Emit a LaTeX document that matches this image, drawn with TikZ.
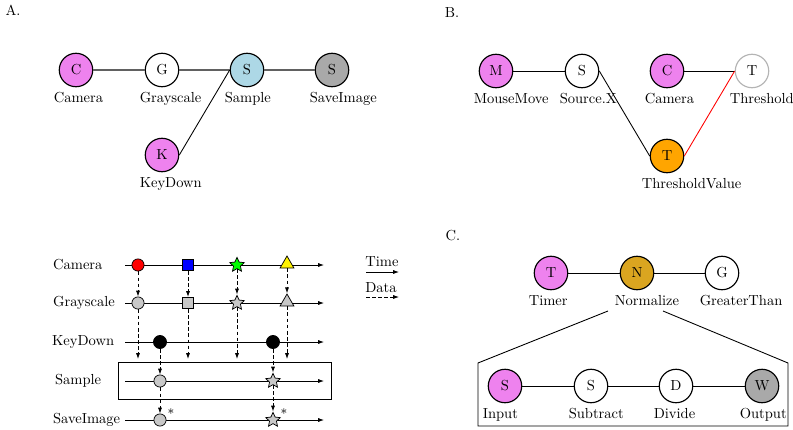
\documentclass[tikz,border=0pt]{standalone}
\usetikzlibrary{shapes.geometric,arrows.meta}
\definecolor{pinkv}{RGB}{238,130,238}
\definecolor{lblue}{RGB}{173,216,230}
\definecolor{dgray}{RGB}{169,169,169}
\definecolor{orng}{RGB}{255,165,0}
\definecolor{gold}{RGB}{218,165,32}
\definecolor{lgray}{RGB}{200,200,200}
\definecolor{bgray}{RGB}{180,180,180}
\begin{document}
\begin{tikzpicture}[x=0.6875pt,y=-0.6875pt,
  nd/.style={circle,draw,line width=0.8pt,minimum size=23pt,inner sep=0pt},
  nlbl/.style={anchor=north west,xshift=-6.9pt,yshift=-12pt},
  lnka/.style={draw=black!62,line width=1pt},
  lnk/.style={draw=black,line width=0.6pt},
  ev/.style={draw,line width=0.5pt,inner sep=0pt},
  evc/.style={ev,circle,minimum size=8.4pt},
  evs/.style={ev,rectangle,minimum size=7.8pt},
  evst/.style={ev,star,star points=5,star point ratio=2.1,minimum size=10.5pt},
  evt/.style={ev,regular polygon,regular polygon sides=3,minimum size=11pt},
  evk/.style={ev,circle,fill=black,minimum size=9pt},
  ax/.style={-{Latex[length=4pt,width=2.8pt]},line width=0.55pt},
  dat/.style={-{Latex[length=4pt,width=2.8pt]},line width=0.55pt,dash pattern=on 2.6pt off 1.6pt},
  rowlbl/.style={anchor=west}
]
\useasboundingbox (0,0) rectangle (793,429);

% ---------------- Panel A ----------------
\node (pA) at (13,10) {A.};
\node[nd,fill=pinkv] (aC) at (76,70) {C};
\node[nd,fill=white] (aG) at (162,70) {G};
\node[nd,fill=lblue] (aS) at (247,70) {S};
\node[nd,fill=dgray] (aW) at (332,70) {S};
\node[nd,fill=pinkv] (aK) at (162,155) {K};
\node[nlbl] (aCl) at (aC.west) {Camera};
\node[nlbl] (aGl) at (aG.west) {Grayscale};
\node[nlbl] (aSl) at (aS.west) {Sample};
\node[nlbl] (aWl) at (aW.west) {SaveImage};
\node[nlbl] (aKl) at (aK.west) {KeyDown};
\draw[lnka] (aC) -- (aG);
\draw[lnka] (aG) -- (aS);
\draw[lnka] (aS) -- (aW);
\draw[lnk] (aK.east) -- (aS.west);

% ---------------- Panel B ----------------
\node (pB) at (452,13) {B.};
\node[nd,fill=pinkv] (bM) at (496,71) {M};
\node[nd,fill=white] (bS) at (582,71) {S};
\node[nd,fill=pinkv] (bC) at (667,71) {C};
\node[nd,fill=white,draw=bgray] (bT) at (752,71) {T};
\node[nd,fill=orng] (bV) at (667,156) {T};
\node[nlbl] (bMl) at (bM.west) {MouseMove};
\node[nlbl] (bSl) at (bS.west) {Source.X};
\node[nlbl] (bCl) at (bC.west) {Camera};
\node[nlbl] (bTl) at (bT.west) {Threshold};
\node[nlbl] (bVl) at ([xshift=-2pt]bV.west) {ThresholdValue};
\draw[lnk] (bM) -- (bS);
\draw[lnk] (bC) -- (bT);
\draw[lnk] (bS.east) -- (bV.west);
\draw[lnk,draw=red] (bV.east) -- (bT.west);

% ---------------- Panel C ----------------
\node (pC) at (453,236) {C.};
\node[nd,fill=pinkv] (cT) at (551,273) {T};
\node[nd,fill=gold] (cN) at (637,273) {N};
\node[nd,fill=white] (cG) at (722,273) {G};
\node[nlbl] (cTl) at (cT.west) {Timer};
\node[nlbl] (cNl) at (cN.west) {Normalize};
\node[nlbl] (cGl) at (cG.west) {GreaterThan};
\draw[lnk] (cT) -- (cN);
\draw[lnk] (cN) -- (cG);
\coordinate (tl) at (608,311);
\coordinate (tr) at (663,311);
\coordinate (ml) at (478,363);
\coordinate (mr) at (788,363);
\coordinate (bl) at (478,426);
\coordinate (br) at (788,426);
\draw[lnk] (tl) -- (ml) -- (bl) -- (br) -- (mr) -- (tr);
\node[nd,fill=pinkv] (cI) at (505,386) {S};
\node[nd,fill=white] (cS) at (591,386) {S};
\node[nd,fill=white] (cD) at (676,386) {D};
\node[nd,fill=dgray] (cO) at (762,386) {W};
\node[nlbl] (cIl) at (cI.west) {Input};
\node[nlbl] (cSl) at (cS.west) {Subtract};
\node[nlbl] (cDl) at (cD.west) {Divide};
\node[nlbl] (cOl) at (cO.west) {Output};
\draw[lnk] (cI) -- (cS);
\draw[lnk] (cS) -- (cD);
\draw[lnk] (cD) -- (cO);

% ---------------- Timeline panel ----------------
\node[rowlbl] (lCam) at (48,265) {Camera};
\node[rowlbl] (lGray) at (48,303) {Grayscale};
\node[rowlbl] (lKey) at (47,342) {KeyDown};
\node[rowlbl] (lSam) at (50,381) {Sample};
\node[rowlbl] (lSav) at (48,420) {SaveImage};

\draw[line width=0.6pt] (118,362) rectangle (331,399);

\foreach \n/\y in {cam/265,gray/303,key/342,sam/381,sav/420}{
  \coordinate (s\n) at (125,\y);
  \coordinate (e\n) at (324,\y);
  \draw[ax] (s\n) -- (e\n);
}

% camera events
\node[evc,fill=red] (c1) at (138,265) {};
\node[evs,fill=blue] (c2) at (188,265) {};
\node[evst,fill=green] (c3) at (237,265) {};
\node[evt,fill=yellow] (c4) at (287,264) {};
% grayscale events
\node[evc,fill=lgray] (g1) at (138,303) {};
\node[evs,fill=lgray] (g2) at (188,303) {};
\node[evst,fill=lgray] (g3) at (237,303) {};
\node[evt,fill=lgray] (g4) at (287,302) {};
% keydown events
\node[evk] (k1) at (160,342) {};
\node[evk] (k2) at (273,342) {};
% sample events
\node[evc,fill=lgray] (s1) at (160,381) {};
\node[evst,fill=lgray] (s2) at (273,381) {};
% save events
\node[evc,fill=lgray] (v1) at (160,420) {};
\node[evst,fill=lgray] (v2) at (273,420) {};
\node[font=\small] (st1) at (171,414) {*};
\node[font=\small] (st2) at (284,414) {*};

\foreach \i in {1,2,3,4}{
  \draw[dat] (c\i) -- (g\i);
}
\foreach \i/\x in {1/138,2/188,3/237,4/287}{
  \coordinate (h\i) at (\x,359);
  \draw[dat] (g\i) -- (h\i);
}
\draw[dat] (k1) -- (s1);
\draw[dat] (k2) -- (s2);
\draw[dat] (s1) -- (v1);
\draw[dat] (s2) -- (v2);

% legend
\node (tTime) at (382,262) {Time};
\coordinate (ta) at (366,272);
\coordinate (tb) at (399,272);
\draw[ax] (ta) -- (tb);
\node (tData) at (381,288) {Data};
\coordinate (da) at (366,297);
\coordinate (db) at (399,297);
\draw[dat] (da) -- (db);
\end{tikzpicture}
\end{document}
